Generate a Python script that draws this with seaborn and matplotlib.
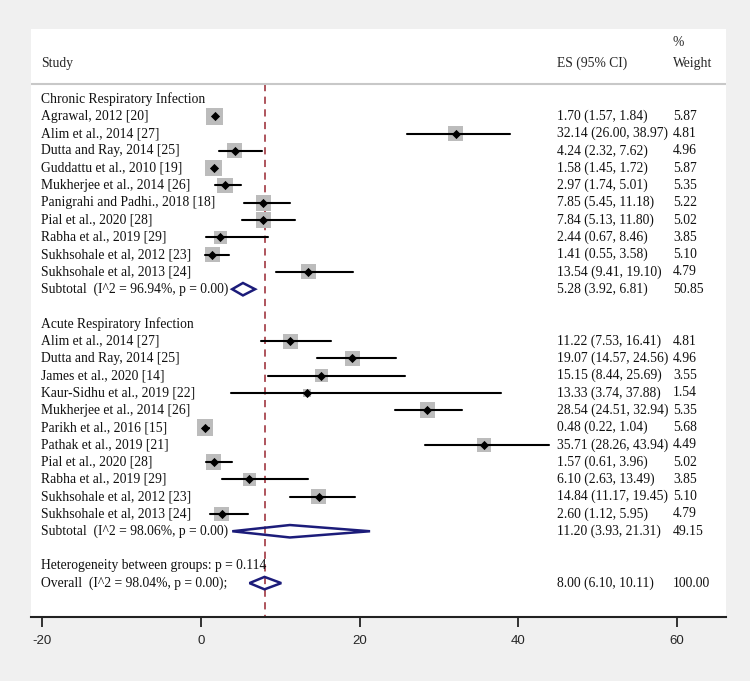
import numpy as np
import pandas as pd
import matplotlib
matplotlib.use("Agg")
import matplotlib.pyplot as plt
from matplotlib.patches import Polygon
import seaborn as sns

# --- data ---
chronic_studies = ["Agrawal, 2012 [20]", "Alim et al., 2014 [27]", "Dutta and Ray, 2014 [25]",
                   "Guddattu et al., 2010 [19]", "Mukherjee et al., 2014 [26]",
                   "Panigrahi and Padhi., 2018 [18]", "Pial et al., 2020 [28]",
                   "Rabha et al., 2019 [29]", "Sukhsohale et al, 2012 [23]",
                   "Sukhsohale et al, 2013 [24]"]
chronic_es = [1.70, 32.14, 4.24, 1.58, 2.97, 7.85, 7.84, 2.44, 1.41, 13.54]
chronic_lo = [1.57, 26.00, 2.32, 1.45, 1.74, 5.45, 5.13, 0.67, 0.55, 9.41]
chronic_hi = [1.84, 38.97, 7.62, 1.72, 5.01, 11.18, 11.80, 8.46, 3.58, 19.10]
chronic_w = [5.87, 4.81, 4.96, 5.87, 5.35, 5.22, 5.02, 3.85, 5.10, 4.79]
chronic_sub = (5.28, 3.92, 6.81, 50.85, "Subtotal  (I^2 = 96.94%, p = 0.00)")

acute_studies = ["Alim et al., 2014 [27]", "Dutta and Ray, 2014 [25]", "James et al., 2020 [14]",
                 "Kaur-Sidhu et al., 2019 [22]", "Mukherjee et al., 2014 [26]",
                 "Parikh et al., 2016 [15]", "Pathak et al., 2019 [21]", "Pial et al., 2020 [28]",
                 "Rabha et al., 2019 [29]", "Sukhsohale et al, 2012 [23]",
                 "Sukhsohale et al, 2013 [24]"]
acute_es = [11.22, 19.07, 15.15, 13.33, 28.54, 0.48, 35.71, 1.57, 6.10, 14.84, 2.60]
acute_lo = [7.53, 14.57, 8.44, 3.74, 24.51, 0.22, 28.26, 0.61, 2.63, 11.17, 1.12]
acute_hi = [16.41, 24.56, 25.69, 37.88, 32.94, 1.04, 43.94, 3.96, 13.49, 19.45, 5.95]
acute_w = [4.81, 4.96, 3.55, 1.54, 5.35, 5.68, 4.49, 5.02, 3.85, 5.10, 4.79]
acute_sub = (11.20, 3.93, 21.31, 49.15, "Subtotal  (I^2 = 98.06%, p = 0.00)")

overall = (8.00, 6.10, 10.11, 100.00, "Overall  (I^2 = 98.04%, p = 0.00);")
heterogeneity = "Heterogeneity between groups: p = 0.114"
groups = ["Chronic Respiratory Infection", "Acute Respiratory Infection"]
xticks = [-20, 0, 20, 40, 60]

# --- build row table ---
rows = []
r = 0
for name, studies, es, lo, hi, w, sub in [
        (groups[0], chronic_studies, chronic_es, chronic_lo, chronic_hi, chronic_w, chronic_sub),
        (groups[1], acute_studies, acute_es, acute_lo, acute_hi, acute_w, acute_sub)]:
    rows.append(dict(row=r, label=name, kind="header"))
    r += 1
    for s, e, l, h, ww in zip(studies, es, lo, hi, w):
        rows.append(dict(row=r, label=s, kind="study", es=e, lo=l, hi=h, w=ww))
        r += 1
    rows.append(dict(row=r, label=sub[4], kind="diamond", es=sub[0], lo=sub[1], hi=sub[2], w=sub[3]))
    r += 2
rows.append(dict(row=r, label=heterogeneity, kind="header"))
r += 1
rows.append(dict(row=r, label=overall[4], kind="diamond", es=overall[0], lo=overall[1],
                 hi=overall[2], w=overall[3]))
df = pd.DataFrame(rows)
studies_df = df[df.kind == "study"]

sns.set_theme(style="white")
plt.rcParams["font.family"] = ["Liberation Serif", "DejaVu Serif"]

fig = plt.figure(figsize=(7.5, 6.81), dpi=100, facecolor="#f0f0f0")
ax = fig.add_axes([31 / 750, 1 - 617 / 681, 695 / 750, 588 / 681])
ax.set_facecolor("white")
ax.set_xlim(-21.45, 66.2)
ax.set_ylim(29.96, -4.05)

# reference line at overall effect
ax.plot([overall[0], overall[0]], [-0.85, 29.96], color="#a8474f", lw=1.3,
        dashes=(4, 3), zorder=1)

# confidence intervals
for _, rr in studies_df.iterrows():
    ax.plot([rr.lo, rr.hi], [rr.row, rr.row], color="black", lw=1.5, zorder=3)

# weight boxes (area proportional to weight)
sns.scatterplot(data=studies_df, x="es", y="row", size="w", sizes=(0, 240),
                size_norm=(0, 10), marker="s", color="#bcbcbc", linewidth=0,
                legend=False, ax=ax, zorder=2)
sns.scatterplot(data=studies_df, x="es", y="row", marker="D", color="black",
                s=22, linewidth=0, legend=False, ax=ax, zorder=4)

# pooled diamonds
for _, rr in df[df.kind == "diamond"].iterrows():
    poly = Polygon([[rr.lo, rr.row], [rr.es, rr.row - 0.36], [rr.hi, rr.row],
                    [rr.es, rr.row + 0.36]], closed=True, fill=False,
                   edgecolor="#1c1c7a", lw=1.8, zorder=5)
    ax.add_patch(poly)

# text columns
fs = 9.8
x_lab, x_es, x_w = -20.2, 44.9, 59.5
for _, rr in df.iterrows():
    ax.text(x_lab, rr.row, rr.label, fontsize=fs, va="center", ha="left", color="#111111")
    if rr.kind != "header":
        ax.text(x_es, rr.row, f"{rr.es:.2f} ({rr.lo:.2f}, {rr.hi:.2f})", fontsize=fs,
                va="center", ha="left", color="#111111")
        ax.text(x_w, rr.row, f"{rr.w:.2f}", fontsize=fs, va="center", ha="left",
                color="#111111")

ax.text(x_lab, -2.05, "Study", fontsize=fs, va="center", ha="left")
ax.text(x_es, -2.05, "ES (95% CI)", fontsize=fs, va="center", ha="left")
ax.text(x_w, -2.05, "Weight", fontsize=fs, va="center", ha="left")
ax.text(x_w, -3.25, "%", fontsize=fs, va="center", ha="left")
ax.axhline(-0.87, color="#c8c8c8", lw=1.5, zorder=1)

# axes styling
for side in ["top", "left", "right"]:
    ax.spines[side].set_visible(False)
ax.spines["bottom"].set_color("#222222")
ax.spines["bottom"].set_linewidth(1.5)
ax.set_yticks([])
ax.set_xticks(xticks)
ax.set_xticklabels([str(t) for t in xticks], fontfamily="Liberation Sans", fontsize=9.5)
ax.tick_params(axis="x", direction="out", length=7, width=1.3, color="#222222",
               bottom=True, pad=6)
ax.set_xlabel("")
ax.set_ylabel("")

fig.savefig("out.png", dpi=100, facecolor=fig.get_facecolor())
